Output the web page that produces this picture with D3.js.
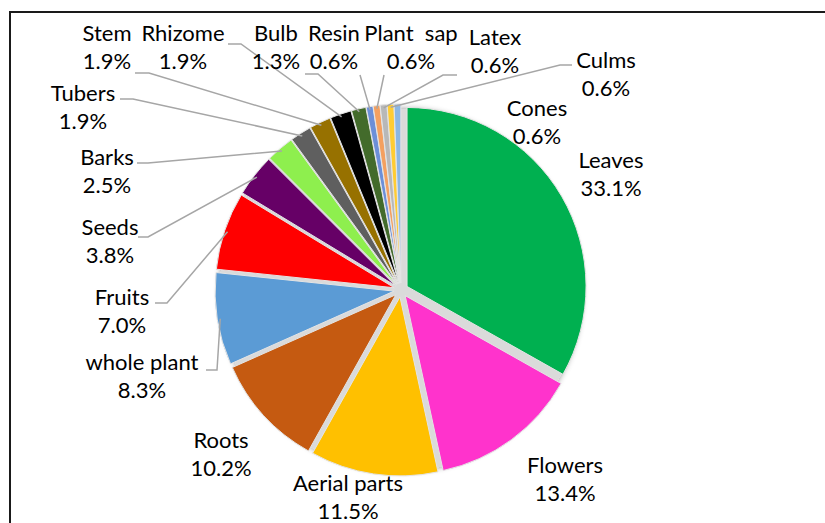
<!DOCTYPE html>
<html>
<head>
<meta charset="utf-8">
<script src="https://cdn.jsdelivr.net/npm/d3@7"></script>
<style>
  body { margin: 0; background: #fff; }
  text { font-family: Lato, "Liberation Sans", sans-serif; white-space: pre; }
</style>
</head>
<body>
<div id="chart"></div>
<script>
// plant parts used (% of reports)
var categories = ["Leaves", "Flowers", "Aerial parts", "Roots", "whole plant", "Fruits", "Seeds", "Barks",
                  "Tubers", "Stem", "Rhizome", "Bulb", "Resin", "Plant  sap", "Latex", "Culms", "Cones"];
var percents = [33.1, 13.4, 11.5, 10.2, 8.3, 7.0, 3.8, 2.5, 1.9, 1.9, 1.9, 1.3, 0.6, 0.6, 0.6, 0.6, 0.6];
var colors = ["#00B050", "#FF33CC", "#FFC000", "#C55A11", "#5B9BD5", "#FF0000", "#660066", "#8EEF4E",
              "#5F5F5F", "#977100", "#000000", "#436B2B", "#6C8FD8", "#F4A060", "#B8B8B8", "#FFCC33", "#8CB7E3"];

// label centres (first line) and leader line starts, by category index
var labelPos = [[611,160],[565,465],[348,483],[221,440],[142,362],[122,297],[110,227],[107,157],
                [83,93],[107,33],[183,33],[276,33],[334,33],[411,33],[495,37],[606,60],[537,108]];
var leaders = {
    4: [[206,370],[217,370]],
    5: [[155,303],[167,303]],
    6: [[138,237],[148,237]],
    7: [[137,163],[148,163]],
    8: [[120,99],[133,99]],
    9: [[135,73],[149,73]],
    10: [[228,44],[241,44]],
    11: [[305,74],[318,74]],
    12: [[360,75]],
    13: [[384,75]],
    14: [[457,75],[443,75]],
    15: [[572,65],[560,65]]
};

var width = 825, height = 523;
var cx = 401, cy = 290, r = 179, explode = 7;
var fs = 22, lineGap = 28;

var svg = d3.select("#chart").append("svg").attr("width", width).attr("height", height);

var defs = svg.append("defs");
var f = defs.append("filter").attr("id", "shadow").attr("x", "-20%").attr("y", "-20%").attr("width", "140%").attr("height", "140%");
f.append("feDropShadow").attr("dx", 0).attr("dy", 0).attr("stdDeviation", 3)
    .attr("flood-color", "#000").attr("flood-opacity", 0.45);

svg.append("rect").attr("x", 10).attr("y", 12).attr("width", 840).attr("height", 540)
    .attr("fill", "none").attr("stroke", "#1a1a1a").attr("stroke-width", 2);

var pie = d3.pie().sort(null).value(function(d){ return d; });
var arcs = pie(percents);
var arc = d3.arc().innerRadius(0).outerRadius(r);

function mid(d){ return (d.startAngle + d.endAngle) / 2; }

var g = svg.append("g").attr("transform", "translate(" + cx + "," + cy + ")");

// leader lines
var lines = svg.append("g");
arcs.forEach(function(d, i){
    if (!leaders[i]) return;
    var a = mid(d), rr = r + explode - 3;
    var pts = leaders[i].concat([[cx + rr * Math.sin(a), cy - rr * Math.cos(a)]]);
    lines.append("path")
        .attr("d", d3.line()(pts))
        .attr("fill", "none").attr("stroke", "#A6A6A6").attr("stroke-width", 1.5);
});

// grey bed under the exploded slices so the gaps read light grey
g.append("circle").attr("r", r + 2).attr("fill", "#DADADA").attr("filter", "url(#shadow)");

var slices = g.append("g");
slices.selectAll("path").data(arcs).enter().append("path")
    .attr("d", arc)
    .attr("transform", function(d){
        var a = mid(d);
        return "translate(" + (explode * Math.sin(a)) + "," + (-explode * Math.cos(a)) + ")";
    })
    .attr("fill", function(d, i){ return colors[i]; })
    .attr("stroke", "#E4E4E4").attr("stroke-width", 1);

// labels
var labels = svg.append("g");
arcs.forEach(function(d, i){
    var t = labels.append("text").attr("text-anchor", "middle").attr("font-size", fs).attr("fill", "#000");
    t.append("tspan").attr("x", labelPos[i][0]).attr("y", labelPos[i][1] + 8).text(categories[i]);
    t.append("tspan").attr("x", labelPos[i][0]).attr("y", labelPos[i][1] + 8 + lineGap).text(d3.format(".1f")(percents[i]) + "%");
});
</script>
</body>
</html>
